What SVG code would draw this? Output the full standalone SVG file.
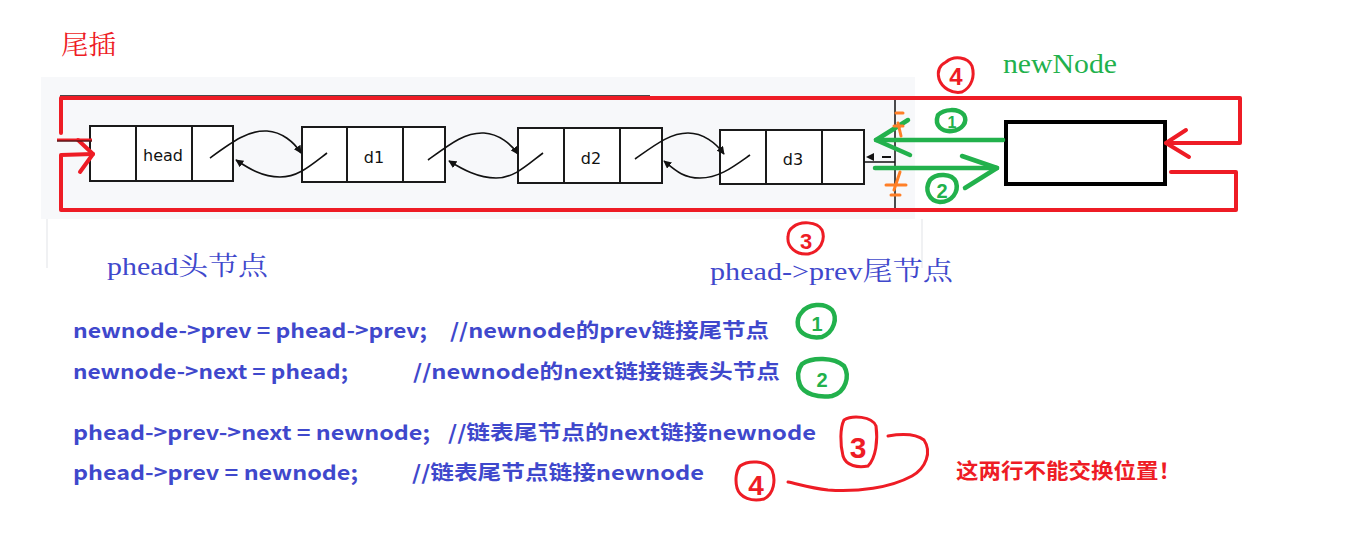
<svg xmlns="http://www.w3.org/2000/svg" width="1353" height="539" viewBox="0 0 1353 539">
<defs>
<style>
.cell{fill:#ffffff;stroke:#1a1a1a;stroke-width:2}
.lbl{font-family:"DejaVu Sans","Noto Sans",sans-serif;font-size:16px;fill:#111}
.curve{fill:none;stroke:#111;stroke-width:1.6}
.red{fill:none;stroke:#ee1c25;stroke-width:4;stroke-linecap:round;stroke-linejoin:round}
.grn{fill:none;stroke:#22b14c;stroke-width:4.5;stroke-linecap:round;stroke-linejoin:round}
.org{fill:none;stroke:#ff7f27;stroke-width:3;stroke-linecap:round}
.code{font-family:"Noto Sans CJK SC","Noto Sans","Liberation Sans",sans-serif;font-weight:bold;font-size:20px;fill:#3f48cc}
.serif{font-family:"Liberation Serif","Noto Serif CJK SC","Noto Sans CJK SC",serif}
.hand{font-family:"Liberation Sans",sans-serif;font-weight:bold}
</style>
<marker id="ah" viewBox="0 0 10 10" refX="9" refY="5" markerWidth="8" markerHeight="8" markerUnits="userSpaceOnUse" orient="auto">
<path d="M0,0 L10,5 L0,10 Z" fill="#111"/>
</marker>
</defs>

<rect width="1353" height="539" fill="#ffffff"/>
<g id="panel">
<rect x="41" y="77" width="874" height="142" fill="#f7f8fa"/>
<line x1="47" y1="219" x2="47" y2="268" stroke="#f0f1f3" stroke-width="2"/>
<line x1="922" y1="219" x2="922" y2="268" stroke="#f0f1f3" stroke-width="2"/>
<line x1="895" y1="100" x2="895" y2="208" stroke="#111" stroke-width="1.5"/>
<line x1="60" y1="96" x2="650" y2="96" stroke="#111" stroke-width="1.5"/>
</g>

<g id="title"><text x="61" y="54" class="serif" font-size="26" fill="#ee1c25" textLength="55" lengthAdjust="spacingAndGlyphs">尾插</text></g>

<g id="node-head">
<rect x="90" y="126" width="143" height="55" class="cell"/>
<line x1="136" y1="126" x2="136" y2="181" stroke="#1a1a1a" stroke-width="2"/>
<line x1="192" y1="126" x2="192" y2="181" stroke="#1a1a1a" stroke-width="2"/>
<text x="163" y="161" class="lbl" text-anchor="middle">head</text>
</g>
<g id="node-d1">
<rect x="302" y="127" width="143" height="55" class="cell"/>
<line x1="347" y1="127" x2="347" y2="182" stroke="#1a1a1a" stroke-width="2"/>
<line x1="403" y1="127" x2="403" y2="182" stroke="#1a1a1a" stroke-width="2"/>
<text x="374" y="163" class="lbl" text-anchor="middle">d1</text>
</g>
<g id="node-d2">
<rect x="518" y="128" width="144" height="55" class="cell"/>
<line x1="564" y1="128" x2="564" y2="183" stroke="#1a1a1a" stroke-width="2"/>
<line x1="620" y1="128" x2="620" y2="183" stroke="#1a1a1a" stroke-width="2"/>
<text x="591" y="164" class="lbl" text-anchor="middle">d2</text>
</g>
<g id="node-d3">
<rect x="720" y="130" width="144" height="54" class="cell"/>
<line x1="766" y1="130" x2="766" y2="184" stroke="#1a1a1a" stroke-width="2"/>
<line x1="822" y1="130" x2="822" y2="184" stroke="#1a1a1a" stroke-width="2"/>
<text x="793" y="165" class="lbl" text-anchor="middle">d3</text>
</g>

<g id="node-newNode">
<rect x="1006" y="122" width="159" height="62" fill="#ffffff" stroke="#000" stroke-width="4"/>
<text x="1003" y="73" class="serif" font-size="27" fill="#22b14c" textLength="114" lengthAdjust="spacingAndGlyphs">newNode</text>
</g>

<g id="connectors">
<path class="curve" d="M210,158 C232,142 248,130 267,131 C282,132 294,142 301,153" marker-end="url(#ah)"/>
<path class="curve" d="M327,153 C310,166 298,177 280,177 C262,177 248,168 236,160" marker-end="url(#ah)"/>
<path class="curve" d="M428,160 C450,144 465,132 484,133 C499,134 511,144 518,154" marker-end="url(#ah)"/>
<path class="curve" d="M543,153 C526,166 514,178 496,178 C478,178 462,169 449,161" marker-end="url(#ah)"/>
<path class="curve" d="M635,159 C655,145 670,133 688,133 C703,133 716,143 724,154" marker-end="url(#ah)"/>
<path class="curve" d="M750,155 C733,167 719,178 700,178 C683,178 675,170 664,161" marker-end="url(#ah)"/>
<line x1="864" y1="162" x2="895" y2="162" stroke="#111" stroke-width="1.5"/>
<path d="M866,157 L874,153 L874,161 Z" fill="#111"/>
<line x1="882" y1="157" x2="891" y2="157" stroke="#111" stroke-width="2"/>

<path class="red" d="M61,133 L61,98 L1240,98 L1240,143 L1166,143"/>
<path class="red" d="M1186,130 L1166,143 L1189,157"/>
<path class="red" d="M1171,172 L1236,172 L1236,210 L61,210 L61,155 L93,154"/>
<path class="red" d="M78,140 L93,154 L80,172"/>
<line x1="57" y1="140" x2="92" y2="140" stroke="#ee1c25" stroke-width="3"/>
<line x1="57" y1="141" x2="92" y2="141" stroke="#111" stroke-width="1"/>

<path class="grn" d="M1003,140 L876,140"/>
<path class="grn" d="M908,120 L876,140 L910,155"/>
<path class="grn" d="M875,168 L997,168"/>
<path class="grn" d="M962,156 L997,168 L965,188"/>

<path class="org" d="M896,113 L903,113 M898,123 L901,136 M894,126 L903,126"/>
<path class="org" d="M900,172 L894,190 M886,185 L906,185 M891,195 L900,195"/>
</g>

<g id="marks">
<path d="M946,62 C954,55 968,57 972,66 C975,76 972,87 962,92 C952,94 942,88 939,79 C937,71 940,65 946,62 Z" fill="none" stroke="#ee1c25" stroke-width="3"/>
<text x="956" y="85" class="hand" font-size="24" fill="#ee1c25" text-anchor="middle">4</text>
<path d="M938,115 C944,109 958,108 964,115 C968,122 962,130 952,131 C942,132 934,126 938,115 Z" class="grn" stroke-width="3"/>
<text x="952" y="128" class="hand" font-size="16" fill="#22b14c" text-anchor="middle">1</text>
<path d="M930,180 C936,173 952,173 956,182 C959,192 952,202 940,202 C929,201 924,190 930,180 Z" class="grn" stroke-width="3"/>
<text x="942" y="198" class="hand" font-size="20" fill="#22b14c" text-anchor="middle">2</text>
<path d="M793,227 C800,221 817,221 822,230 C826,240 820,252 808,254 C796,255 787,247 788,237 C788,232 790,229 793,227 Z" fill="none" stroke="#ee1c25" stroke-width="3"/>
<text x="806" y="249" class="hand" font-size="22" fill="#ee1c25" text-anchor="middle">3</text>
</g>

<g id="labels">
<text x="107" y="275" class="serif" font-size="26" fill="#3f48cc" textLength="161" lengthAdjust="spacingAndGlyphs">phead头节点</text>
<text x="710" y="280" class="serif" font-size="26" fill="#3f48cc" textLength="243" lengthAdjust="spacingAndGlyphs">phead-&gt;prev尾节点</text>
</g>

<g id="code">
<text x="73" y="338" class="code" textLength="354" lengthAdjust="spacingAndGlyphs">newnode-&gt;prev = phead-&gt;prev;</text>
<text x="450" y="338" class="code" textLength="319" lengthAdjust="spacingAndGlyphs">//newnode的prev链接尾节点</text>
<text x="73" y="379" class="code" textLength="275" lengthAdjust="spacingAndGlyphs">newnode-&gt;next = phead;</text>
<text x="413" y="379" class="code" textLength="367" lengthAdjust="spacingAndGlyphs">//newnode的next链接链表头节点</text>
<text x="73" y="440" class="code" textLength="357" lengthAdjust="spacingAndGlyphs">phead-&gt;prev-&gt;next = newnode;</text>
<text x="448" y="440" class="code" textLength="368" lengthAdjust="spacingAndGlyphs">//链表尾节点的next链接newnode</text>
<text x="73" y="480" class="code" textLength="285" lengthAdjust="spacingAndGlyphs">phead-&gt;prev = newnode;</text>
<text x="412" y="480" class="code" textLength="292" lengthAdjust="spacingAndGlyphs">//链表尾节点链接newnode</text>
</g>

<g id="annotations">
<path d="M802,312 C808,304 824,302 832,310 C838,318 834,332 822,337 C810,339 800,334 798,326 C797,320 798,316 802,312 Z" class="grn" stroke-width="3"/>
<text x="817" y="331" class="hand" font-size="20" fill="#22b14c" text-anchor="middle">1</text>
<path d="M802,364 C812,357 834,357 844,366 C850,376 846,392 832,396 C818,398 804,394 800,385 C797,377 798,369 802,364 Z" class="grn" stroke-width="3"/>
<text x="822" y="387" class="hand" font-size="20" fill="#22b14c" text-anchor="middle">2</text>
<path d="M844,420 C852,415 872,416 876,426 C878,440 876,458 868,466 C858,468 846,466 843,456 C840,444 840,428 844,420 Z" fill="none" stroke="#ee1c25" stroke-width="3"/>
<text x="858" y="458" class="hand" font-size="30" fill="#ee1c25" text-anchor="middle">3</text>
<path d="M740,466 C748,460 766,460 772,470 C776,480 774,494 764,499 C752,502 740,498 737,488 C735,480 736,471 740,466 Z" fill="none" stroke="#ee1c25" stroke-width="3"/>
<text x="756" y="495" class="hand" font-size="28" fill="#ee1c25" text-anchor="middle">4</text>
<path d="M888,436 C900,434 915,433 924,440 C932,452 926,468 912,476 C890,488 858,492 828,490 C810,488 798,484 788,482" fill="none" stroke="#ee1c25" stroke-width="3" stroke-linecap="round"/>
<text x="956" y="478" font-family="Noto Sans CJK SC,sans-serif" font-weight="bold" font-size="21" fill="#ee1c25" textLength="225" lengthAdjust="spacingAndGlyphs">这两行不能交换位置！</text>
</g>
</svg>
